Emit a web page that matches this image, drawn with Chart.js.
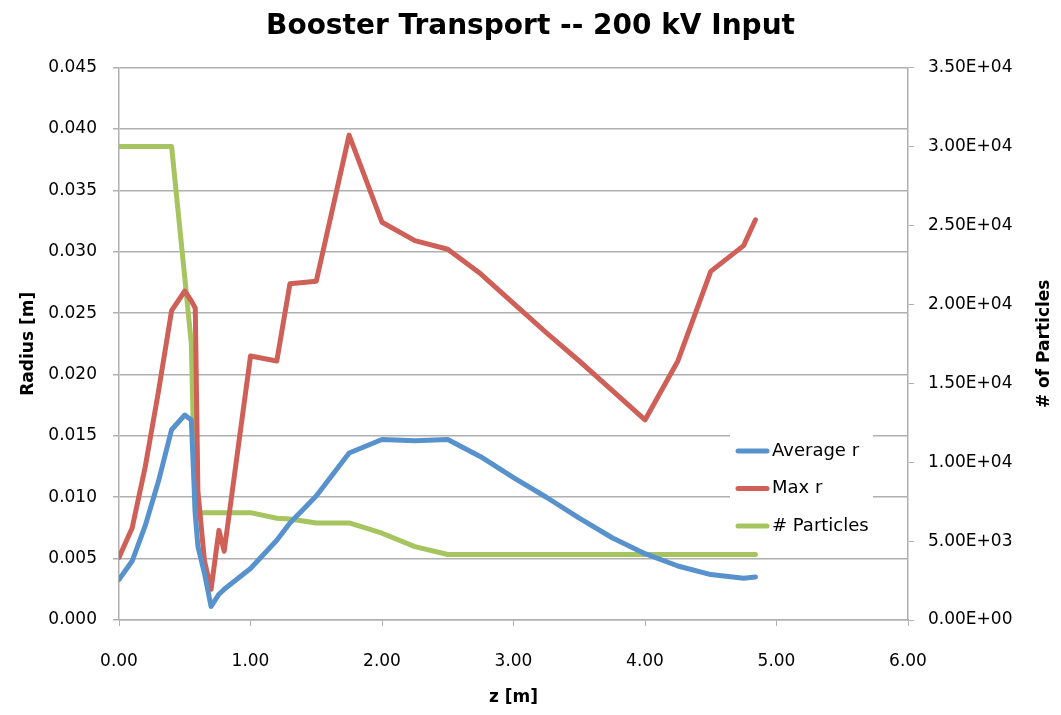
<!DOCTYPE html>
<html>
<head>
<meta charset="utf-8">
<title>Booster Transport -- 200 kV Input</title>
<script src="https://cdn.jsdelivr.net/npm/chart.js@4.4.1/dist/chart.umd.min.js"></script>
<style>
    html, body { margin: 0; padding: 0; background: #ffffff; }
    #wrap { width: 1061px; height: 715px; position: relative; }
</style>
</head>
<body>
<div id="wrap"><canvas id="boosterChart"></canvas></div>
<script>
// z position along the transport line [m]
const zPositions = [0, 0.1, 0.2, 0.3, 0.4, 0.5, 0.55, 0.58, 0.6, 0.65, 0.7, 0.76, 0.8, 1.0, 1.2, 1.3,
    1.5, 1.75, 2.0, 2.25, 2.5, 2.75, 3.0, 3.25, 3.5, 3.75, 4.0, 4.25, 4.5, 4.75, 4.84];

const avgRadius = [0.0033, 0.0048, 0.0077, 0.0113, 0.0155, 0.0167, 0.0163, 0.0086, 0.0060, 0.0038, 0.0011,
    0.0021, 0.0025, 0.0042, 0.0065, 0.0079, 0.0101, 0.0136, 0.0147, 0.0146, 0.0147, 0.0133, 0.0116,
    0.0100, 0.0083, 0.0067, 0.0054, 0.0044, 0.0037, 0.0034, 0.0035];

const maxRadius = [0.0051, 0.0075, 0.0125, 0.0186, 0.0252, 0.0268, 0.0260, 0.0254, 0.0105, 0.0048, 0.0025,
    0.0073, 0.0056, 0.0215, 0.0211, 0.0274, 0.0276, 0.0395, 0.0324, 0.0309, 0.0302, 0.0282, 0.0258,
    0.0234, 0.0211, 0.0187, 0.0163, 0.0211, 0.0284, 0.0305, 0.0326];

const particleCount = [30000, 30000, 30000, 30000, 30000, 21700, 17500, 6800, 6800, 6800, 6800, 6800, 6800,
    6800, 6450, 6400, 6150, 6150, 5500, 4650, 4150, 4150, 4150, 4150, 4150, 4150, 4150, 4150, 4150, 4150, 4150];

const seriesNames = ["Average r", "Max r", "# Particles"];
const seriesColors = ["#5892cc", "#ce6058", "#a6c460"];
const rightTitle = "# of Particles";

const toPoints = (ys) => zPositions.map((z, i) => ({ x: z, y: ys[i] }));

function sciLabel(v) {
    const [m, e] = Number(v).toExponential(2).split("e");
    const n = parseInt(e, 10);
    return m + "E" + (n < 0 ? "-" : "+") + String(Math.abs(n)).padStart(2, "0");
}

const FONT = "'DejaVu Sans', sans-serif";
const GRID = "#b0b0b0";

// legend sits inside the plot, on a white patch; right axis title reads bottom-up like Excel
const extras = {
    id: "extras",
    afterDatasetsDraw(chart) {
        const ctx = chart.ctx;
        ctx.save();
        ctx.fillStyle = "#ffffff";
        ctx.fillRect(730, 426, 143, 116);
        ctx.font = "18px " + FONT;
        ctx.textBaseline = "middle";
        chart.data.datasets.forEach((ds, i) => {
            const y = 451 + i * 37.5;
            ctx.strokeStyle = ds.borderColor;
            ctx.lineWidth = 5;
            ctx.lineCap = "round";
            ctx.beginPath();
            ctx.moveTo(738, y);
            ctx.lineTo(767, y);
            ctx.stroke();
            ctx.fillStyle = "#000000";
            ctx.fillText(ds.label, 772, y);
        });
        ctx.restore();
    },
    afterDraw(chart) {
        const ctx = chart.ctx;
        const area = chart.chartArea;
        ctx.save();
        ctx.translate(1045, (area.top + area.bottom) / 2);
        ctx.rotate(-Math.PI / 2);
        ctx.font = "bold 17px " + FONT;
        ctx.fillStyle = "#000000";
        ctx.textAlign = "center";
        ctx.textBaseline = "middle";
        ctx.fillText(rightTitle, 0, 0);
        ctx.restore();
    }
};

new Chart(document.getElementById("boosterChart"), {
    type: "line",
    data: {
        datasets: [
            { label: seriesNames[0], data: toPoints(avgRadius), borderColor: seriesColors[0], yAxisID: "y" },
            { label: seriesNames[1], data: toPoints(maxRadius), borderColor: seriesColors[1], yAxisID: "y" },
            { label: seriesNames[2], data: toPoints(particleCount), borderColor: seriesColors[2], yAxisID: "y1" }
        ]
    },
    options: {
        responsive: true,
        maintainAspectRatio: false,
        animation: false,
        layout: { padding: 0 },
        elements: {
            line: { borderWidth: 5, tension: 0, borderJoinStyle: "round", borderCapStyle: "round", fill: false },
            point: { radius: 0, hoverRadius: 0 }
        },
        plugins: {
            legend: { display: false },
            tooltip: { enabled: false },
            title: {
                display: true,
                text: "Booster Transport -- 200 kV Input",
                color: "#000000",
                font: { family: FONT, size: 28, weight: "bold" },
                padding: { top: 10, bottom: 24 }
            }
        },
        scales: {
            x: {
                type: "linear",
                min: 0,
                max: 6,
                afterFit: (s) => { s.height = 95; },
                ticks: {
                    stepSize: 1,
                    color: "#000000",
                    padding: 25,
                    font: { family: FONT, size: 17 },
                    callback: (v) => Number(v).toFixed(2)
                },
                grid: { drawOnChartArea: false, drawTicks: true, tickLength: 6, color: GRID },
                border: { color: GRID, width: 1.5 },
                title: {
                    display: true,
                    text: "z [m]",
                    color: "#000000",
                    font: { family: FONT, size: 17, weight: "bold" },
                    padding: { top: 0, bottom: 7 }
                }
            },
            y: {
                position: "left",
                min: 0,
                max: 0.045,
                afterFit: (s) => { s.width = 119; },
                ticks: {
                    stepSize: 0.005,
                    color: "#000000",
                    padding: 16,
                    font: { family: FONT, size: 17 },
                    callback: (v) => Number(v).toFixed(3)
                },
                grid: { color: GRID, lineWidth: 1.5, tickLength: 6 },
                border: { color: GRID, width: 1.5 },
                title: {
                    display: true,
                    text: "Radius [m]",
                    color: "#000000",
                    font: { family: FONT, size: 17, weight: "bold" },
                    padding: { top: 18, bottom: 0 }
                }
            },
            y1: {
                position: "right",
                min: 0,
                max: 35000,
                afterFit: (s) => { s.width = 153; },
                ticks: {
                    stepSize: 5000,
                    color: "#000000",
                    padding: 14,
                    font: { family: FONT, size: 17 },
                    callback: (v) => sciLabel(v)
                },
                grid: { drawOnChartArea: false, tickLength: 6, color: GRID },
                border: { color: GRID, width: 1.5 },
                title: { display: false }
            }
        }
    },
    plugins: [extras]
});
</script>
</body>
</html>
